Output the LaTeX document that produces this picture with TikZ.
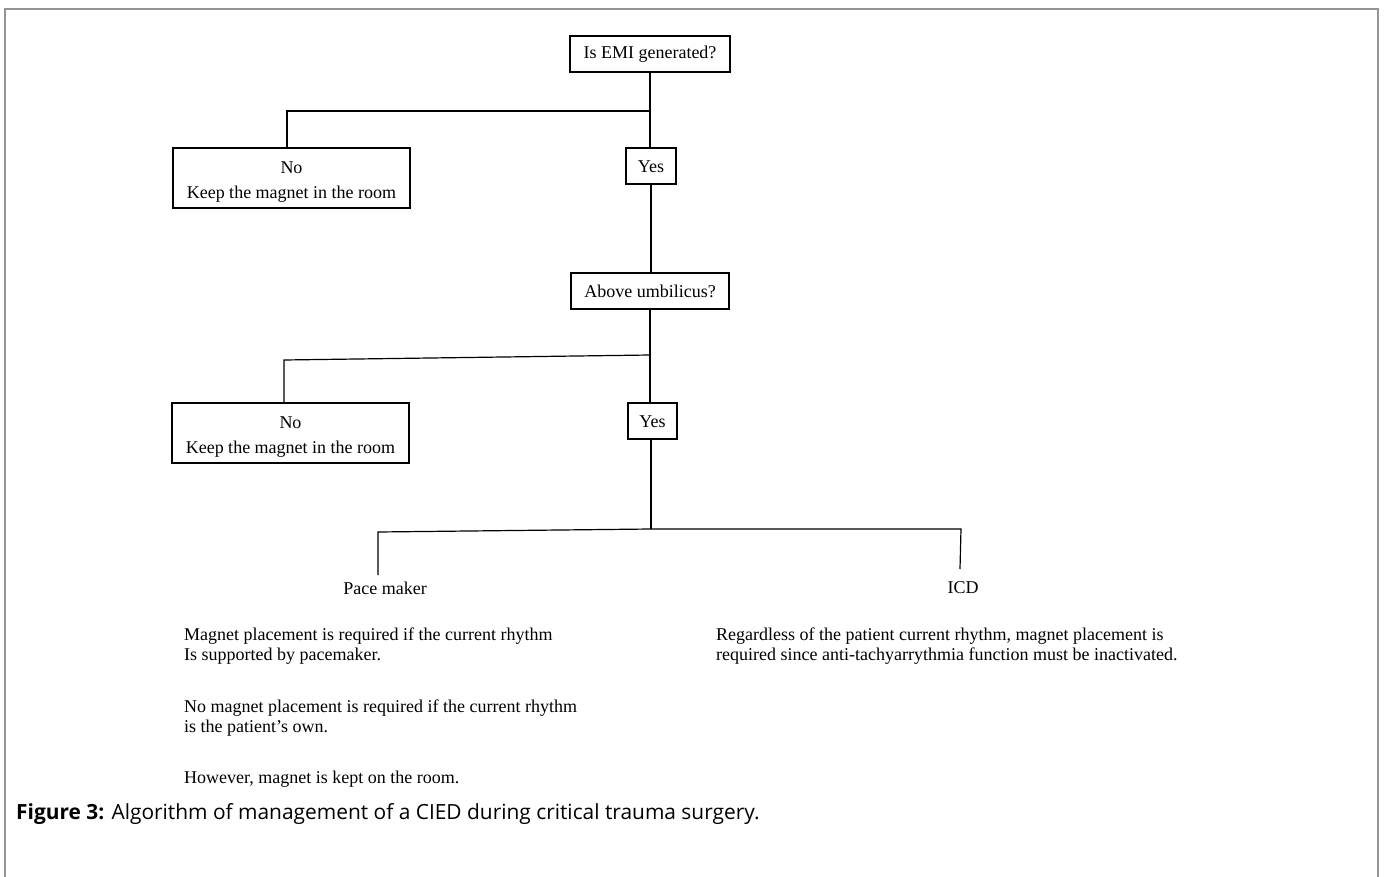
\documentclass[tikz,border=0pt]{standalone}
\usepackage{fontspec}
\setmainfont{Liberation Serif}
\newfontfamily\capfont{Open Sans}
\begin{document}
\begin{tikzpicture}[x=1pt,y=-1pt,
  box/.style={draw=black,line width=1.2pt,inner sep=0pt,align=center,font=\fontsize{18}{24.5}\selectfont},
  conn/.style={draw=black,line width=1.2pt},
  lbl/.style={inner sep=0pt,font=\fontsize{18}{20}\selectfont},
  para/.style={inner sep=0pt,align=left,anchor=north west,font=\fontsize{18}{20.5}\selectfont}]
\useasboundingbox (0,0) rectangle (1384,877);
\fill[white] (0,0) rectangle (1384,877);
% frame
\draw[color=black!42,line width=1.5pt] (5,877) -- (5,9) -- (1378,9) -- (1378,877);
% nodes
\node[box,minimum width=160pt,minimum height=36pt] (emi) at (650,54) {Is EMI generated?};
\node[box,minimum width=50pt,minimum height=36pt] (yes1) at (651,166) {\rule{0pt}{13.5pt}Yes};
\node[box,minimum width=237pt,minimum height=60pt] (no1) at (291.5,178) {\rule{0pt}{20pt}No\\Keep the magnet in the room};
\node[box,minimum width=158pt,minimum height=36pt] (umb) at (650,291) {Above umbilicus?};
\node[box,minimum width=237pt,minimum height=60pt] (no2) at (290.5,433) {\rule{0pt}{20pt}No\\Keep the magnet in the room};
\node[box,minimum width=49pt,minimum height=36pt] (yes2) at (652.5,421) {\rule{0pt}{13.5pt}Yes};
\node[lbl] (pm) at (385,588) {Pace maker};
\node[lbl] (icd) at (963,588) {ICD};
\node[para] (pmt1) at (184,627.5) {Magnet placement is required if the current rhythm\\Is supported by pacemaker.};
\node[para] (pmt2) at (184,699.5) {No magnet placement is required if the current rhythm\\is the patient’s own.};
\node[para] (pmt3) at (184,770.5) {However, magnet is kept on the room.};
\node[para] (icdt) at (716,627.5) {Regardless of the patient current rhythm, magnet placement is\\required since anti-tachyarrythmia function must be inactivated.};
\node[inner sep=0pt,anchor=base west,font=\capfont\fontsize{20.9}{24}\selectfont] (cap) at (16,819) {\textbf{Figure 3:} Algorithm of management of a CIED during critical trauma surgery.};
% junctions
\coordinate (j1) at (650,111);
\coordinate (j1l) at (287,111);
\coordinate (j2) at (650,355);
\coordinate (j2l) at (284,360);
\coordinate (j3) at (651,529);
\coordinate (j3l) at (378,532);
\coordinate (j3r) at (961,529);
\coordinate (pmend) at (378,575);
\coordinate (icdend) at (960,569);
% connectors
\draw[conn] (emi.south) -- (yes1.north -| emi.south);
\draw[conn] (j1) -- (j1l) -- (j1l |- no1.north);
\draw[conn] (yes1.south) -- (umb.north -| yes1.south);
\draw[conn] (umb.south) -- (yes2.north -| umb.south);
\draw[conn] (j2) -- (j2l) -- (j2l |- no2.north);
\draw[conn] (yes2.south -| j3) -- (j3);
\draw[conn] (j3) -- (j3l) -- (pmend);
\draw[conn] (j3) -- (j3r) -- (icdend);
\end{tikzpicture}
\end{document}
